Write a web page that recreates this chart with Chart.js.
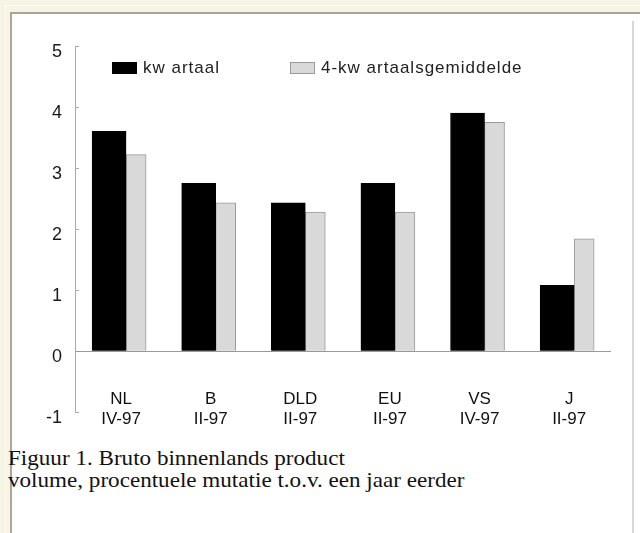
<!DOCTYPE html>
<html>
<head>
<meta charset="utf-8">
<script src="https://cdn.jsdelivr.net/npm/chart.js@4.4.1/dist/chart.umd.min.js"></script>
<style>
    html, body { margin: 0; padding: 0; }
    body {
        width: 640px; height: 533px; position: relative; overflow: hidden;
        background: #f6f4e4;
        font-family: "Liberation Sans", Arial, sans-serif;
    }
    #outerLine { position: absolute; left: 5px; top: 5px; right: 0; bottom: 0; border-top: 1px solid #fdfcf4; border-left: 1px solid #fdfcf4; }
    #frame { position: absolute; left: 10px; top: 12px; right: 0; bottom: 0; background: #fff; border-top: 2px solid #a9a699; border-left: 2px solid #a9a699; }
    #rightLine { position: absolute; left: 632px; top: 21px; width: 2px; bottom: 0; background: #d8d8d8; }
    #chartBox { position: absolute; left: 0; top: 0; width: 640px; height: 440px; }
    #caption {
        position: absolute; left: 8px; top: 447px;
        font-family: "Liberation Serif", "Times New Roman", serif;
        font-size: 21px; line-height: 22px; color: #111;
        white-space: nowrap;
        transform: scaleX(1.1); transform-origin: left top;
    }
</style>
</head>
<body>
<div id="outerLine"></div>
<div id="frame"></div>
<div id="rightLine"></div>
<div id="chartBox"><canvas id="bbpChart"></canvas></div>
<div id="caption">Figuur 1. Bruto binnenlands product<br>volume, procentuele mutatie t.o.v. een jaar eerder</div>

<script>
// data
const countries = ['NL', 'B', 'DLD', 'EU', 'VS', 'J'];
const periods = ['IV-97', 'II-97', 'II-97', 'II-97', 'IV-97', 'II-97'];
const seriesNames = ['kw artaal', '4-kw artaalsgemiddelde'];
const kwartaal = [3.6, 2.75, 2.43, 2.75, 3.9, 1.08];
const gemiddelde = [3.22, 2.43, 2.28, 2.28, 3.75, 1.84];
const yMin = -1, yMax = 5, yStep = 1;

const labels = countries.map((c, i) => [c, periods[i]]);

// x as category index on a linear scale, so the first group can sit further from the y axis
const toPoints = arr => arr.map((v, i) => ({ x: i, y: v }));

// legend drawn inside the plot area, like the original
const legendInside = {
    id: 'legendInside',
    afterDraw(chart) {
        const ctx = chart.ctx;
        const area = chart.chartArea;
        const xs = [112, 290];
        const y = area.top + 22;
        ctx.save();
        ctx.font = '17px "Liberation Sans", Arial, sans-serif';
        ctx.letterSpacing = '1px';
        ctx.textBaseline = 'middle';
        chart.data.datasets.forEach((ds, i) => {
            ctx.fillStyle = ds.backgroundColor;
            ctx.fillRect(xs[i], y - 6, 25, 12);
            ctx.strokeStyle = ds.borderColor;
            ctx.lineWidth = 1;
            ctx.strokeRect(xs[i] + 0.5, y - 5.5, 24, 11);
            ctx.fillStyle = '#222';
            ctx.fillText(ds.label, xs[i] + 31, y);
        });
        ctx.restore();
    }
};

const chart = new Chart(document.getElementById('bbpChart'), {
    type: 'bar',
    data: {
        datasets: [{
            label: seriesNames[0],
            data: toPoints(kwartaal),
            backgroundColor: '#000000',
            borderColor: '#000000',
            borderWidth: 1,
            barThickness: 34
        }, {
            label: seriesNames[1],
            data: toPoints(gemiddelde),
            backgroundColor: '#d9d9d9',
            borderColor: '#9a9a9a',
            borderWidth: 1,
            barThickness: 20
        }]
    },
    options: {
        responsive: true,
        maintainAspectRatio: false,
        animation: false,
        layout: { padding: { left: 0, right: 30, top: 46, bottom: 12 } },
        plugins: {
            legend: { display: false },
            tooltip: { enabled: false }
        },
        scales: {
            x: {
                type: 'linear',
                position: { y: 0 },
                offset: false,
                min: -0.57,
                max: 5.4,
                grid: { display: false, drawTicks: false },
                border: { color: '#999999', width: 1 },
                ticks: {
                    stepSize: 1,
                    includeBounds: false,
                    padding: 38,
                    labelOffset: -5,
                    color: '#111',
                    font: { family: '"Liberation Sans", Arial, sans-serif', size: 17 },
                    maxRotation: 0,
                    autoSkip: false,
                    callback: function(value) { return labels[value]; }
                },
                afterFit: function(scale) { scale.height = 0; }
            },
            y: {
                min: yMin,
                max: yMax,
                ticks: {
                    stepSize: yStep,
                    padding: 17,
                    labelOffset: 6,
                    color: '#1a1a1a',
                    font: { family: '"Liberation Sans", Arial, sans-serif', size: 18 }
                },
                grid: { drawOnChartArea: false, tickLength: -4, tickColor: '#aaaaaa' },
                border: { color: '#aaaaaa', width: 1 },
                afterFit: function(scale) { scale.width = 75; }
            }
        }
    },
    plugins: [legendInside]
});
</script>
</body>
</html>
